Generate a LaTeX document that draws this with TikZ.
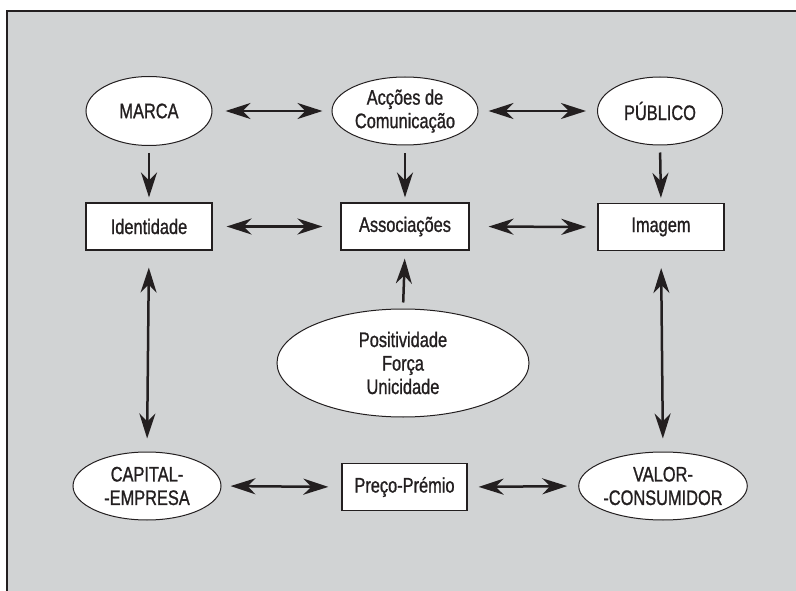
\documentclass[tikz,border=0pt]{standalone}
\usepackage{fontspec}
\setmainfont{Liberation Sans}[FakeStretch=0.78,FakeBold=1]
\usetikzlibrary{shapes.geometric,arrows.meta}
\definecolor{bggray}{HTML}{D1D3D4}
\definecolor{ink}{HTML}{231F20}
\tikzset{
  oval/.style={ellipse, draw=ink, line width=1pt, fill=white, inner sep=0pt, align=center,
    font=\fontsize{21}{23.5}\selectfont, text=ink},
  rbox/.style={rectangle, draw=ink, line width=1.2pt, fill=white, inner sep=0pt, align=center,
    minimum width=126pt, minimum height=47pt, font=\fontsize{21}{23.5}\selectfont, text=ink},
  tip/.tip={Stealth[length=25pt,width=16pt,inset=8pt]},
  arr/.style={draw=ink, line width=2.5pt, -tip},
  darr/.style={draw=ink, line width=2.5pt, tip-tip},
}
\begin{document}
\begin{tikzpicture}[x=1pt,y=-1pt]
\useasboundingbox (0,0) rectangle (796,591);
\fill[white] (0,0) rectangle (796,591);
\fill[bggray] (7,11) rectangle (796,591);
\draw[ink, line width=2.2pt] (7,592) -- (7,11) -- (797,11);

\node[oval, minimum width=126pt, minimum height=69pt] (marca) at (149,111) {MARCA};
\node[oval, minimum width=146pt, minimum height=68pt] (accoes) at (405,111) {Acções de\\Comunicação};
\node[oval, minimum width=125pt, minimum height=68pt] (publico) at (660,111) {PÚBLICO};

\node[rbox] (ident) at (149,226.5) {Identidade};
\node[rbox, minimum width=128pt] (assoc) at (405,226.5) {Associações};
\node[rbox] (imagem) at (661,227) {Imagem};

\node[oval, minimum width=252pt, minimum height=108pt] (posit) at (403,363) {Positividade\\Força\\Unicidade};

\node[oval, minimum width=148pt, minimum height=68pt] (capital) at (147,486) {CAPITAL-\\-EMPRESA};
\node[rbox, minimum width=125pt] (preco) at (404.5,487) {Preço-Prémio};
\node[oval, minimum width=148pt, minimum height=68pt] (valor) at (663,486) {VALOR-\\-CONSUMIDOR};

\draw[darr, shorten <=13pt, shorten >=9pt] (marca.east) -- (accoes.west);
\draw[darr, shorten <=10pt, shorten >=11pt] (accoes.east) -- (publico.west);
\draw[arr, shorten <=7pt, shorten >=5pt] (marca.south) -- (ident.north);
\draw[arr, shorten <=8pt, shorten >=5pt] (accoes.south) -- (assoc.north);
\draw[arr, shorten <=7pt, shorten >=5pt] (publico.south) -- (imagem.north);
\draw[darr, shorten <=14pt, shorten >=18pt] (ident.east) -- (assoc.west);
\draw[darr, shorten <=19pt, shorten >=11pt] (assoc.east) -- (imagem.west);
\draw[arr, shorten <=6pt, shorten >=8pt] (posit.north) -- (assoc.south);
\draw[darr, shorten <=17pt, shorten >=13pt] (ident.south) -- (capital.north);
\draw[darr, shorten <=17pt, shorten >=13pt] (imagem.south) -- (valor.north);
\draw[darr, shorten <=9pt, shorten >=13pt] (capital.east) -- (preco.west);
\draw[darr, shorten <=11pt, shorten >=11pt] (preco.east) -- (valor.west);
\end{tikzpicture}
\end{document}
